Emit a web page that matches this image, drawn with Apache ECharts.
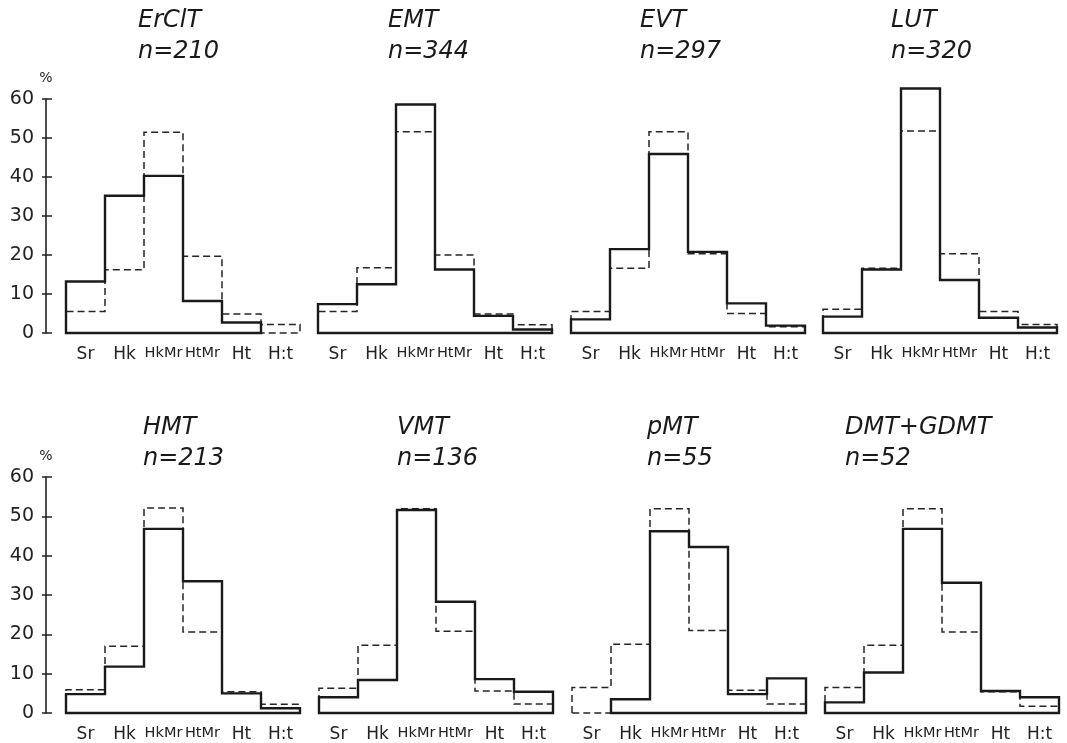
<!DOCTYPE html>
<html>
<head>
<meta charset="utf-8">
<script src="https://cdn.jsdelivr.net/npm/echarts@6/dist/echarts.min.js"></script>
<style>html,body{margin:0;padding:0;background:#fff}#c{width:1067px;height:743px}</style>
</head>
<body>
<div id="c"></div>
<script>
const categories = ['Sr', 'Hk', 'HkMr', 'HtMr', 'Ht', 'H:t'];
const panelNames = ['ErClT', 'EMT', 'EVT', 'LUT', 'HMT', 'VMT', 'pMT', 'DMT+GDMT'];
const panelCounts = [210, 344, 297, 320, 213, 136, 55, 52];
const yTicks = [0, 10, 20, 30, 40, 50, 60];

// solid line: the group itself (%)
const solidErClT = [13.2, 35.2, 40.3, 8.2, 2.7, 0];
const solidEMT   = [7.4, 12.5, 58.6, 16.3, 4.4, 0.9];
const solidEVT   = [3.5, 21.5, 45.9, 20.8, 7.6, 1.9];
const solidLUT   = [4.2, 16.3, 62.7, 13.6, 3.9, 1.4];
const solidHMT   = [4.8, 11.8, 46.8, 33.5, 5.0, 1.2];
const solidVMT   = [4.0, 8.4, 51.6, 28.3, 8.6, 5.4];
const solidPMT   = [0, 3.5, 46.2, 42.2, 4.8, 8.8];
const solidDMT   = [2.7, 10.3, 46.8, 33.1, 5.6, 4.0];

// dashed line: comparison distribution (%)
const dashedErClT = [5.5, 16.2, 51.5, 19.7, 4.9, 2.2];
const dashedEMT   = [5.5, 16.7, 51.6, 20.0, 4.9, 2.1];
const dashedEVT   = [5.5, 16.6, 51.6, 20.3, 5.0, 1.6];
const dashedLUT   = [6.1, 16.6, 51.8, 20.3, 5.5, 2.2];
const dashedHMT   = [5.9, 17.0, 52.1, 20.6, 5.4, 2.2];
const dashedVMT   = [6.3, 17.2, 51.9, 20.8, 5.6, 2.3];
const dashedPMT   = [6.5, 17.5, 51.9, 21.0, 5.8, 2.3];
const dashedDMT   = [6.5, 17.2, 51.9, 20.6, 5.4, 1.7];

const solidSets = [solidErClT, solidEMT, solidEVT, solidLUT, solidHMT, solidVMT, solidPMT, solidDMT];
const dashedSets = [dashedErClT, dashedEMT, dashedEVT, dashedLUT, dashedHMT, dashedVMT, dashedPMT, dashedDMT];

const gridLefts = [66, 318, 571, 823, 66, 319, 572, 825];
const titleLefts = [138, 388, 640, 891, 143, 397, 647, 845];
const FONT = '"DejaVu Sans", sans-serif';

function histRenderer(vals, dashed) {
  return function (params, api) {
    if (params.dataIndex !== 0) return null;
    let a = 0, b = vals.length - 1;
    while (a < b && vals[a] === 0) a++;
    while (b > a && vals[b] === 0) b--;
    const w = api.size([1, 0])[0];
    const pts = [];
    const c0 = api.coord([a, 0]);
    pts.push([c0[0] - w / 2, c0[1]]);
    for (let i = a; i <= b; i++) {
      const c = api.coord([i, vals[i]]);
      pts.push([c[0] - w / 2, c[1]]);
      pts.push([c[0] + w / 2, c[1]]);
    }
    const ce = api.coord([b, 0]);
    pts.push([ce[0] + w / 2, ce[1]]);
    return {
      type: 'polygon',
      shape: { points: pts },
      style: dashed
        ? { fill: 'none', stroke: '#262626', lineWidth: 1.5, lineDash: [7, 4] }
        : { fill: 'none', stroke: '#1a1a1a', lineWidth: 2.4 }
    };
  };
}

const grids = [], xAxes = [], yAxes = [], series = [], titles = [];
for (let p = 0; p < 8; p++) {
  const top = p < 4 ? 99 : 477;
  const height = p < 4 ? 234 : 237;
  grids.push({ left: gridLefts[p], top: top, width: 234, height: height });
  xAxes.push({
    type: 'category', gridIndex: p, data: categories, boundaryGap: true,
    axisLine: { show: false }, axisTick: { show: false }, splitLine: { show: false },
    axisLabel: {
      margin: 13, interval: 0,
      formatter: v => (v === 'HkMr' || v === 'HtMr') ? '{s|' + v + '}' : '{b|' + v + '}',
      rich: {
        b: { fontFamily: FONT, fontSize: 17, color: '#222' },
        s: { fontFamily: FONT, fontSize: 14.5, color: '#222' }
      }
    }
  });
  const showY = (p % 4 === 0);
  yAxes.push({
    type: 'value', gridIndex: p, min: yTicks[0], max: yTicks[yTicks.length - 1], interval: yTicks[1] - yTicks[0],
    show: showY, position: 'left', offset: 20,
    name: '%', nameLocation: 'end', nameGap: 14,
    nameTextStyle: { fontFamily: FONT, fontSize: 14, color: '#222', align: 'center' },
    axisLine: { show: true, lineStyle: { color: '#222', width: 1.6 } },
    axisTick: { show: true, length: 4, lineStyle: { color: '#222', width: 1.5 } },
    splitLine: { show: false },
    axisLabel: { fontFamily: FONT, fontSize: 19, color: '#222', margin: 12 }
  });
  yAxes.push({
    type: 'value', gridIndex: p, min: yTicks[0], max: yTicks[yTicks.length - 1], interval: yTicks[1] - yTicks[0],
    show: showY, position: 'left', offset: 20,
    axisLine: { show: false },
    axisTick: { show: true, inside: true, length: 6, lineStyle: { color: '#222', width: 1.5 } },
    axisLabel: { show: false }, splitLine: { show: false }
  });
  const yIdx = p * 2;
  series.push({
    type: 'custom', xAxisIndex: p, yAxisIndex: yIdx,
    data: dashedSets[p].map((v, i) => [i, v]),
    encode: { x: 0, y: 1 },
    renderItem: histRenderer(dashedSets[p], true), silent: true, z: 1
  });
  series.push({
    type: 'custom', xAxisIndex: p, yAxisIndex: yIdx,
    data: solidSets[p].map((v, i) => [i, v]),
    encode: { x: 0, y: 1 },
    renderItem: histRenderer(solidSets[p], false), silent: true, z: 2
  });
  titles.push({
    text: panelNames[p] + '\nn=' + panelCounts[p],
    left: titleLefts[p], top: p < 4 ? 5 : 412, padding: 0,
    textStyle: { fontFamily: FONT, fontStyle: 'italic', fontWeight: 'normal', fontSize: 24, lineHeight: 31, color: '#1a1a1a' }
  });
}

const chart = echarts.init(document.getElementById('c'), null, { renderer: 'canvas' });
chart.setOption({
  backgroundColor: '#fff',
  animation: false,
  title: titles,
  grid: grids,
  xAxis: xAxes,
  yAxis: yAxes,
  series: series
});
</script>
</body>
</html>
